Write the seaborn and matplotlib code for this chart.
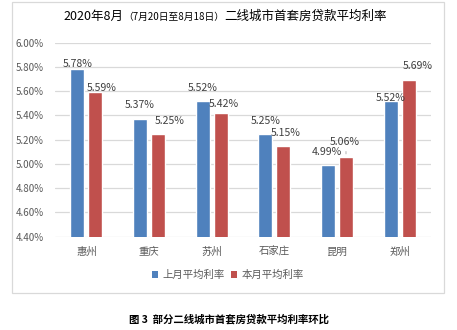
import matplotlib
matplotlib.use("Agg")
import matplotlib.pyplot as plt
from matplotlib.patches import Rectangle, Patch
import seaborn as sns
import pandas as pd

# City first-home mortgage average rates (%)
cities = ["惠州", "重庆", "苏州", "石家庄", "昆明", "郑州"]
last_month = [5.78, 5.37, 5.52, 5.25, 4.99, 5.52]
this_month = [5.59, 5.25, 5.42, 5.15, 5.06, 5.69]
series_names = ["上月平均利率", "本月平均利率"]
y_ticks = [4.40, 4.60, 4.80, 5.00, 5.20, 5.40, 5.60, 5.80, 6.00]

title_main = "2020年8月"
title_period = "（7月20日至8月18日）"
title_rest = "二线城市首套房贷款平均利率"
caption = "图 3  部分二线城市首套房贷款平均利率环比"

sns.set_theme(style="white")
plt.rcParams["font.family"] = ["Noto Sans CJK SC", "DejaVu Sans"]

W, H = 457, 330
fig = plt.figure(figsize=(W / 100, H / 100), dpi=100)


def fx(px):
    return px / W


def fy(py):
    return 1 - py / H


ax = fig.add_axes([fx(55), fy(236.7), fx(431) - fx(55), fy(42.7) - fy(236.7)])

df = pd.DataFrame({
    "city": cities * 2,
    "rate": last_month + this_month,
    "series": [series_names[0]] * len(cities) + [series_names[1]] * len(cities),
})
colors = ["#4F81BD", "#C0504D"]
sns.barplot(data=df, x="city", y="rate", hue="series", palette=colors,
            width=0.574, gap=0.22, ax=ax, legend=False, saturation=1,
            errorbar=None)

ax.set_ylim(4.40, 6.00)
ax.set_xlim(-0.5, len(cities) - 0.5)
ax.set_yticks(y_ticks)
ax.set_yticklabels([f"{t:.2f}%" for t in y_ticks])
ax.set_xlabel("")
ax.set_ylabel("")
for s in ax.spines.values():
    s.set_visible(False)
ax.yaxis.grid(True, color="#D9D9D9", linewidth=0.9)
ax.set_axisbelow(True)
ax.tick_params(axis="y", labelsize=7, colors="#595959", length=0, pad=8)
ax.tick_params(axis="x", labelsize=7.5, colors="#595959", length=0, pad=7)

# value labels: per-bar nudges in pixels (dx, dy of label centre above bar top)
nudges = [
    [(0, 5), (0, 14), (0, 13), (0, 13), (-1, 13), (0, 3)],
    [(6.5, 4), (11.5, 13), (2.7, 9), (2.7, 13), (-1, 15), (9, 14)],
]
for k, (cont, vals) in enumerate(zip(ax.containers, [last_month, this_month])):
    for i, (bar, v) in enumerate(zip(cont, vals)):
        cx = bar.get_x() + bar.get_width() / 2
        dx, dy = nudges[k][i]
        ax.annotate(f"{v:.2f}%", xy=(cx, v), xytext=(dx, dy),
                    textcoords="offset pixels", ha="center", va="center",
                    fontsize=7.6, color="#404040")

# short leader line for the 昆明 label
kb = ax.containers[1][4]
kx = kb.get_x() + kb.get_width() / 2
ax.annotate("", xy=(kx, this_month[4]), xytext=(0, 8),
            textcoords="offset pixels",
            arrowprops=dict(arrowstyle="-", color="#A6A6A6", lw=0.6))

# legend
handles = [Patch(facecolor=c, edgecolor="none") for c in colors]
fig.legend(handles, series_names, loc="center", bbox_to_anchor=(fx(228), fy(275)),
           ncol=2, frameon=False, fontsize=7.5, handlelength=0.6, handleheight=0.6,
           handletextpad=0.4, columnspacing=0.6, labelcolor="#595959")

# chart border
fig.patches.append(Rectangle((fx(12), fy(293)), fx(444) - fx(12), fy(2) - fy(293),
                             transform=fig.transFigure, fill=False,
                             edgecolor="#D9D9D9", linewidth=0.9))

# title in three runs of different sizes
fig.canvas.draw()
renderer = fig.canvas.get_renderer()
x = 63
for txt, size in [(title_main, 9), (title_period, 7), (title_rest, 9)]:
    t = fig.text(fx(x), fy(16.7), txt, fontsize=size, ha="left", va="center",
                 color="#000000")
    x += t.get_window_extent(renderer).width

fig.text(fx(229), fy(319), caption, fontsize=7.5, fontweight="bold",
         ha="center", va="center", color="#000000")

fig.savefig("out.png", dpi=100)
